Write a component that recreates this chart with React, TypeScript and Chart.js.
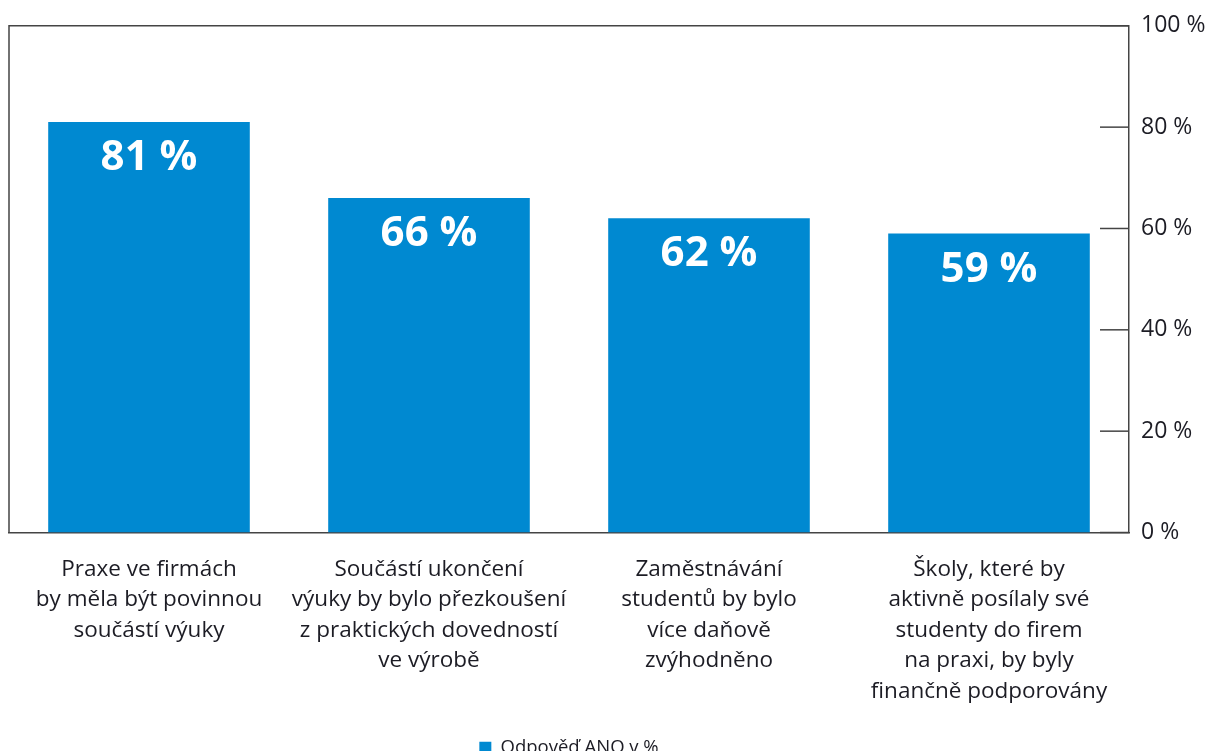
import React, { useEffect, useRef } from "react";
import { Chart, registerables } from "chart.js";

Chart.register(...registerables);

const categories: string[][] = [
  ["Praxe ve firmách", "by měla být povinnou", "součástí výuky"],
  ["Součástí ukončení", "výuky by bylo přezkoušení", "z praktických dovedností", "ve výrobě"],
  ["Zaměstnávání", "studentů by bylo", "více daňově", "zvýhodněno"],
  ["Školy, které by", "aktivně posílaly své", "studenty do firem", "na praxi, by byly", "finančně podporovány"],
];
const values = [81, 66, 62, 59];
const seriesLabel = "Odpověď ANO v %";
const yMin = 0;
const yMax = 100;
const yStep = 20;

const FONT = "'Open Sans', 'Noto Sans', sans-serif";
const BAR_COLOR = "#0089D1";
const TEXT_COLOR = "#1c1c24";
const LINE_COLOR = "#444444";

const framePlugin = {
  id: "frame",
  afterDraw(chart: any) {
    const { ctx, chartArea } = chart;
    const y = chart.scales.y;
    ctx.save();
    ctx.strokeStyle = LINE_COLOR;
    ctx.lineWidth = 1.5;
    ctx.beginPath();
    ctx.moveTo(chartArea.left, chartArea.bottom);
    ctx.lineTo(chartArea.left, chartArea.top);
    ctx.lineTo(chartArea.right, chartArea.top);
    ctx.stroke();
    ctx.lineWidth = 1.5;
    y.ticks.forEach((t: any) => {
      const py = y.getPixelForValue(t.value);
      ctx.beginPath();
      ctx.moveTo(chartArea.right - 29, py);
      ctx.lineTo(chartArea.right, py);
      ctx.stroke();
    });
    ctx.restore();
  },
};

const valueLabelPlugin = {
  id: "valueLabels",
  afterDatasetsDraw(chart: any) {
    const { ctx } = chart;
    const meta = chart.getDatasetMeta(0);
    ctx.save();
    ctx.fillStyle = "#ffffff";
    ctx.font = `bold 42px ${FONT}`;
    ctx.textAlign = "center";
    ctx.textBaseline = "middle";
    meta.data.forEach((bar: any, i: number) => {
      ctx.fillText(`${values[i]} %`, bar.x, bar.y + 36);
    });
    ctx.restore();
  },
};

export default function App() {
  const ref = useRef<HTMLCanvasElement | null>(null);

  useEffect(() => {
    if (!ref.current) return;
    const chart = new Chart(ref.current, {
      type: "bar",
      data: {
        labels: categories,
        datasets: [
          {
            label: seriesLabel,
            data: values,
            backgroundColor: BAR_COLOR,
            borderWidth: 0,
            barPercentage: 0.72,
            categoryPercentage: 1,
          },
        ],
      },
      options: {
        animation: false,
        responsive: true,
        maintainAspectRatio: false,
        layout: { padding: { left: 9, top: 25, right: 0, bottom: 0 } },
        plugins: {
          tooltip: { enabled: false },
          legend: {
            position: "bottom",
            fullSize: false,
            labels: {
              boxWidth: 12,
              boxHeight: 12,
              color: TEXT_COLOR,
              font: { family: FONT, size: 18.5 },
              padding: 10,
            },
          },
        },
        scales: {
          x: {
            grid: { display: false, drawTicks: false },
            border: { display: true, color: LINE_COLOR, width: 1.5 },
            ticks: {
              color: TEXT_COLOR,
              font: { family: FONT, size: 22.5, lineHeight: 1.35 },
              padding: 22,
              maxRotation: 0,
              autoSkip: false,
            },
            afterFit(scale: any) {
              scale.height = 196;
            },
          },
          y: {
            position: "right",
            min: yMin,
            max: yMax,
            grid: { display: false, drawTicks: false },
            border: { display: true, color: LINE_COLOR, width: 1.5 },
            ticks: {
              stepSize: yStep,
              color: TEXT_COLOR,
              font: { family: FONT, size: 23 },
              padding: 12,
              callback: (v: any) => `${v} %`,
            },
            afterFit(scale: any) {
              scale.width = 78;
            },
          },
        },
      },
      plugins: [framePlugin, valueLabelPlugin],
    });
    return () => chart.destroy();
  }, []);

  return (
    <div style={{ position: "fixed", left: 0, top: 0, width: 1207, height: 767, background: "#fff" }}>
      <canvas ref={ref} />
    </div>
  );
}
